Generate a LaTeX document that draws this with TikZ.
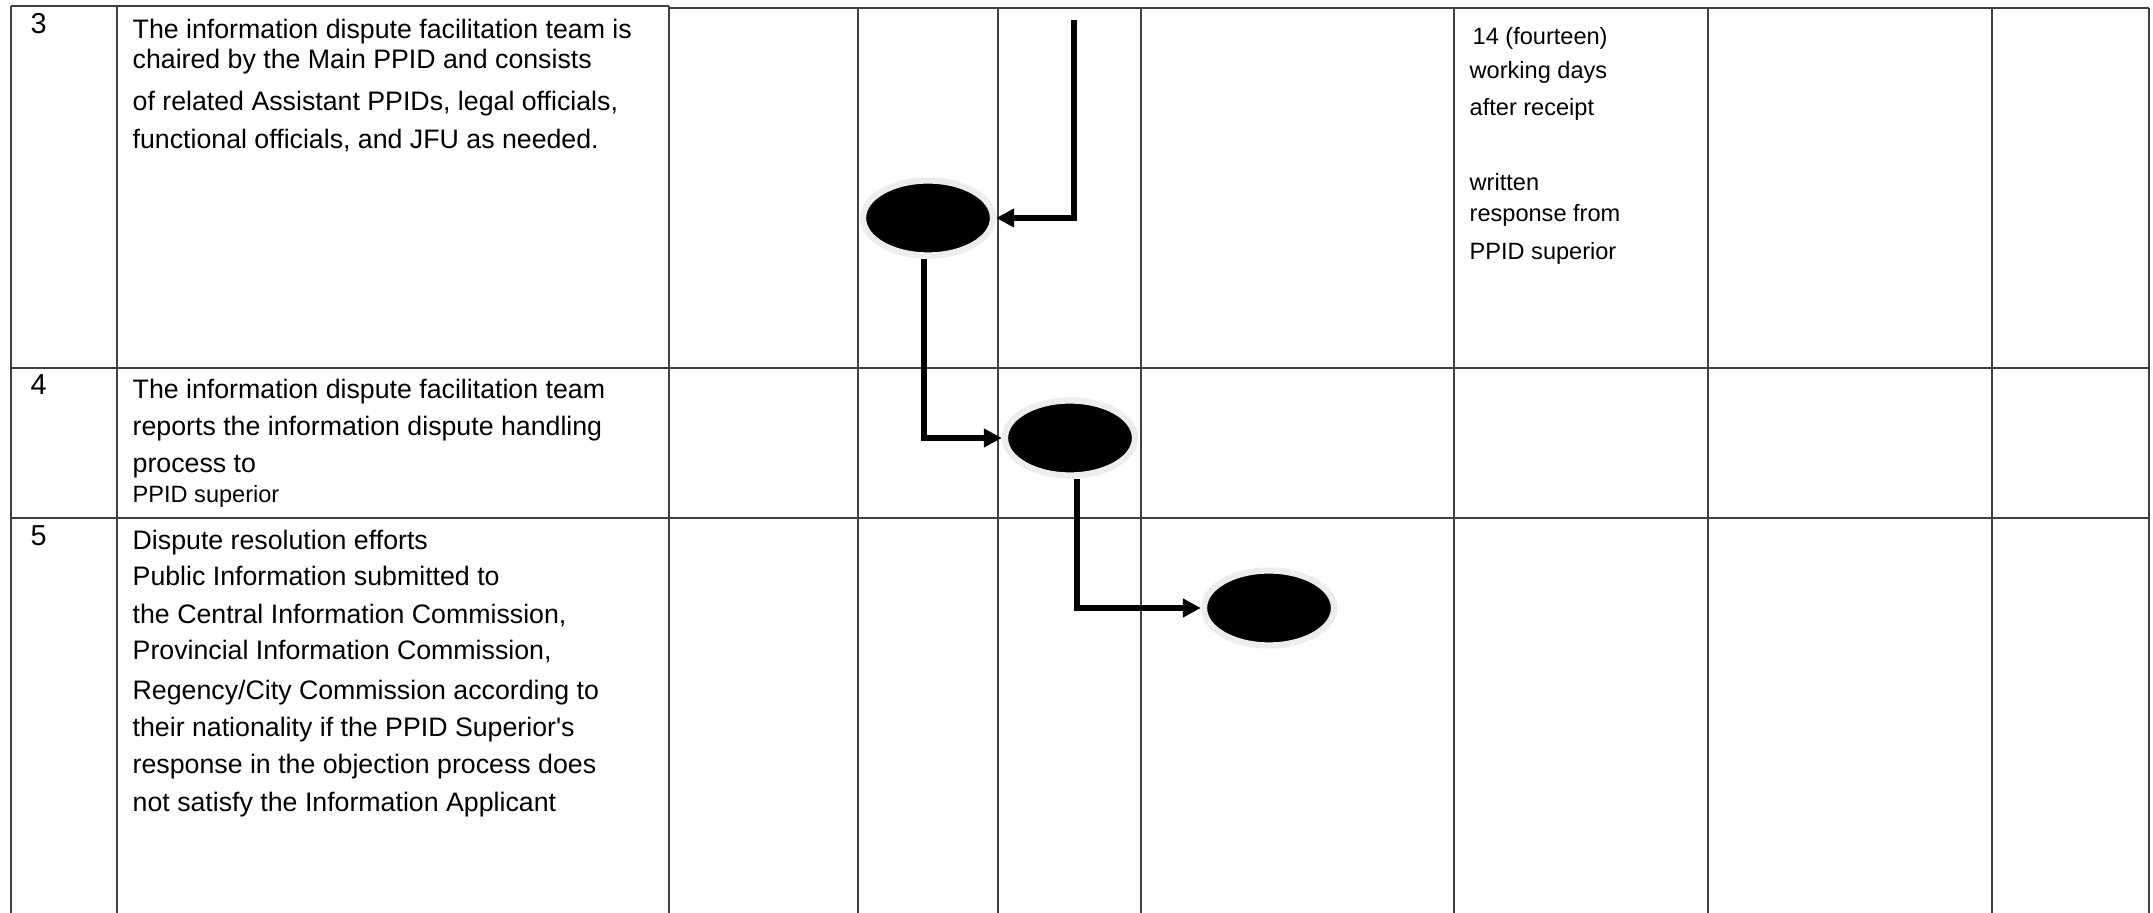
\documentclass[tikz,border=0pt]{standalone}
\usepackage{fontspec}
\setmainfont{Liberation Sans}
\usetikzlibrary{positioning,arrows.meta,shapes.geometric}

\begin{document}
\begin{tikzpicture}[
  x=0.01cm, y=-0.01cm,
  grid/.style={draw=black!75, line width=0.5pt},
  txt/.style={anchor=base west, inner sep=0pt, font=\fontsize{7.6}{9}\selectfont},
  small/.style={anchor=base west, inner sep=0pt, font=\fontsize{6.7}{8}\selectfont},
  num/.style={anchor=base west, inner sep=0pt, font=\fontsize{8.2}{9}\selectfont},
  event/.style={ellipse, fill=black, draw=black!7, line width=1.8pt, minimum width=1.3cm, minimum height=0.75cm, inner sep=0pt},
  arrow/.style={-{Triangle[length=1.8mm, width=1.8mm]}, line width=1.55pt}
]
  \useasboundingbox (0,0) rectangle (2153,913);

  % Garis tabel
  \draw[grid] (11,6) -- (669,6);
  \draw[grid] (669,8) -- (2149,8);
  \draw[grid] (11,368) -- (2149,368);
  \draw[grid] (11,518) -- (2149,518);
  \draw[grid] (11,6) -- (11,913);
  \draw[grid] (117,6) -- (117,913);
  \draw[grid] (669,6) -- (669,913);
  \foreach \cx in {858,998,1141,1454,1708,1992,2149}
    \draw[grid] (\cx,8) -- (\cx,913);

  % Nomor baris
  \node[num] (n3) at (30,34) {3};
  \node[num] (n4) at (30,395) {4};
  \node[num] (n5) at (30,546) {5};

  % Kegiatan baris 3
  \node[txt] (a1) at (132,39)  {The information dispute facilitation team is};
  \node[txt] (a2) at (132,69)  {chaired by the Main PPID and consists};
  \node[txt] (a3) at (132,111) {of related Assistant PPIDs, legal officials,};
  \node[txt] (a4) at (132,149) {functional officials, and JFU as needed.};

  % Kegiatan baris 4
  \node[txt] (b1) at (132,399) {The information dispute facilitation team};
  \node[txt] (b2) at (132,436) {reports the information dispute handling};
  \node[txt] (b3) at (132,473) {process to};
  \node[small] (b4) at (132,503) {PPID superior};

  % Kegiatan baris 5
  \node[txt] (c1) at (132,550) {Dispute resolution efforts};
  \node[txt] (c2) at (132,586) {Public Information submitted to};
  \node[txt] (c3) at (132,624) {the Central Information Commission,};
  \node[txt] (c4) at (132,660) {Provincial Information Commission,};
  \node[txt] (c5) at (132,700) {Regency/City Commission according to};
  \node[txt] (c6) at (132,737) {their nationality if the PPID Superior\textquotesingle s};
  \node[txt] (c7) at (132,774) {response in the objection process does};
  \node[txt] (c8) at (132,812) {not satisfy the Information Applicant};

  % Waktu dan output
  \node[small] (w1) at (1472,45)  {14 (fourteen)};
  \node[small] (w2) at (1469,79)  {working days};
  \node[small] (w3) at (1469,116) {after receipt};
  \node[small] (o1) at (1469,191) {written};
  \node[small] (o2) at (1469,222) {response from};
  \node[small] (o3) at (1469,260) {PPID superior};

  % Alur
  \node[event] (e1) at (928,218) {};
  \node[event] (e2) at (1070,438) {};
  \node[event] (e3) at (1269,608) {};
  \coordinate (start) at (1074,20);

  \draw[arrow] (start) |- (e1.east);
  \draw[arrow] ([xshift=-0.04cm]e1.south) |- (e2.west);
  \draw[arrow] ([xshift=0.07cm]e2.south) |- (e3.west);
\end{tikzpicture}
\end{document}
